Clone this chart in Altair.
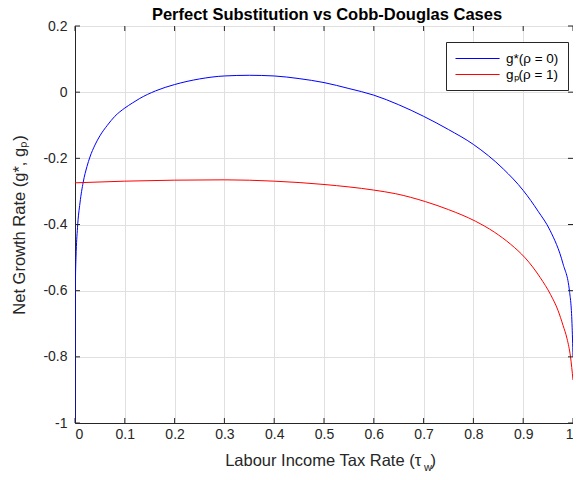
import altair as alt
import pandas as pd

# ---- data ----
series_names = ["g*(ρ = 0)", "gₚ(ρ = 1)"]
series_colors = ["#0000ff", "#ff0000"]

g_star_x = [0.0, 0.0005, 0.001, 0.002, 0.005, 0.01, 0.0165, 0.024, 0.03, 0.04, 0.05,
            0.065, 0.08, 0.1, 0.115, 0.13, 0.162, 0.2, 0.25, 0.3, 0.35, 0.4, 0.45, 0.5,
            0.55, 0.6, 0.65, 0.7, 0.75, 0.8, 0.86, 0.9, 0.93, 0.954, 0.98, 0.993, 0.998, 1.0]
g_star_y = [-1.0, -0.62, -0.56, -0.50, -0.41, -0.335, -0.272, -0.225, -0.196, -0.16, -0.132,
            -0.10, -0.073, -0.048, -0.033, -0.019, 0.004, 0.023, 0.040, 0.049, 0.051, 0.049, 0.041, 0.029,
            0.011, -0.009, -0.038, -0.073, -0.113, -0.158, -0.232, -0.297, -0.36, -0.418, -0.519, -0.602, -0.70, -0.80]

g_p_x = [0.0, 0.1, 0.2, 0.3, 0.4, 0.5, 0.6, 0.644, 0.704, 0.75, 0.804, 0.842,
         0.875, 0.904, 0.934, 0.955, 0.97, 0.98, 0.988, 0.995, 1.0]
g_p_y = [-0.274, -0.269, -0.266, -0.265, -0.269, -0.279, -0.296, -0.307, -0.331, -0.355, -0.39, -0.423,
         -0.46, -0.501, -0.56, -0.612, -0.66, -0.705, -0.745, -0.80, -0.87]

x_ticks = [0, 0.1, 0.2, 0.3, 0.4, 0.5, 0.6, 0.7, 0.8, 0.9, 1]
y_ticks = [-1, -0.8, -0.6, -0.4, -0.2, 0, 0.2]

chart_title = "Perfect Substitution vs Cobb-Douglas Cases"
x_title = "Labour Income Tax Rate (τ\u00a0\u00a0)"
x_title_sub = "w"
y_title = "Net Growth Rate (g*, gₚ)"

df = pd.concat([
    pd.DataFrame({"x": g_star_x, "y": g_star_y, "series": series_names[0], "order": range(len(g_star_x))}),
    pd.DataFrame({"x": g_p_x, "y": g_p_y, "series": series_names[1], "order": range(len(g_p_x))}),
])
xt = pd.DataFrame({"x": x_ticks})
yt = pd.DataFrame({"y": y_ticks})

FONT = "Liberation Sans"
DARK = "#262626"
W, H = 498, 397
TL = 5

xs = alt.Scale(domain=[0, 1], nice=False)
ys = alt.Scale(domain=[-1, 0.2], nice=False)

lines = alt.Chart(df).mark_line(strokeWidth=1, interpolate="monotone", clip=True).encode(
    x=alt.X("x:Q", scale=xs,
            axis=alt.Axis(values=x_ticks, title=x_title, titleX=255,
                          labelExpr="datum.value == 0 ? '0' : datum.value == 1 ? '1' : '' + round(datum.value*10)/10")),
    y=alt.Y("y:Q", scale=ys,
            axis=alt.Axis(values=y_ticks, title=y_title,
                          labelExpr="'' + round(datum.value*10)/10")),
    stroke=alt.Stroke("series:N",
                      scale=alt.Scale(domain=series_names, range=series_colors),
                      legend=alt.Legend(title=None, orient="none", legendX=371, legendY=16,
                                        fillColor="white", strokeColor=DARK, padding=9,
                                        symbolType="M-1,0L5.3,0", symbolSize=196, symbolStrokeWidth=1,
                                        labelFontSize=13.5, labelFont=FONT, labelColor="#000000",
                                        labelOffset=36, rowPadding=2)),
    order="order:Q",
)

# inward ticks (MATLAB style) on all four sides
xt_bottom = alt.Chart(xt).mark_rule(stroke=DARK, strokeWidth=1).encode(
    x=alt.X("x:Q", scale=xs), y=alt.value(H), y2=alt.value(H - TL))
xt_top = alt.Chart(xt).mark_rule(stroke=DARK, strokeWidth=1).encode(
    x=alt.X("x:Q", scale=xs), y=alt.value(0), y2=alt.value(TL))
yt_left = alt.Chart(yt).mark_rule(stroke=DARK, strokeWidth=1).encode(
    y=alt.Y("y:Q", scale=ys), x=alt.value(0), x2=alt.value(TL))
yt_right = alt.Chart(yt).mark_rule(stroke=DARK, strokeWidth=1).encode(
    y=alt.Y("y:Q", scale=ys), x=alt.value(W), x2=alt.value(W - TL))

title_mark = alt.Chart(pd.DataFrame({"t": [chart_title]})).mark_text(
    font=FONT, fontSize=16.5, fontWeight="bold", fill="#000000", align="center", baseline="alphabetic"
).encode(x=alt.value(252), y=alt.value(-6), text="t:N")

sub = alt.Chart(pd.DataFrame({"t": [x_title_sub]})).mark_text(
    font=FONT, fontSize=11, fill=DARK, align="center", baseline="alphabetic"
).encode(x=alt.value(353), y=alt.value(445), text="t:N")

chart = alt.layer(lines, xt_bottom, xt_top, yt_left, yt_right, title_mark, sub).properties(
    width=W, height=H,
    padding={"left": 67, "top": 18, "right": 0, "bottom": 49},
    autosize=alt.AutoSizeParams(type="none"),
).configure_view(stroke=DARK, strokeWidth=1).configure_axis(
    labelFont=FONT, labelFontSize=14, labelColor=DARK,
    titleFont=FONT, titleFontSize=16.5, titleColor=DARK, titleFontWeight="normal",
    domainColor=DARK, gridColor="#e0e0e0", gridWidth=1, ticks=False,
).configure_axisX(labelPadding=4, titlePadding=11.5).configure_axisY(labelPadding=8, titlePadding=15)

chart.save("out.html", embed_options={"renderer": "svg", "actions": False})
